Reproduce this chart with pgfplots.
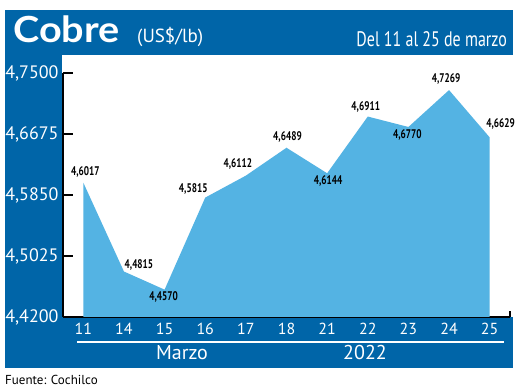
\documentclass[border=0pt]{standalone}
\usepackage{fontspec}
\setmainfont{PT Sans}
\newfontfamily\titlefont{Lato}
\usepackage{graphicx}
\usepackage{pgfplots}
\usepackage{pgfplotstable}
\pgfplotsset{compat=1.18}
\definecolor{dblue}{RGB}{0,101,168}
\definecolor{lblue}{RGB}{84,179,227}
\pgfplotstableread{
x y lab dx dy
0 4.6017 4,6017 2 11
1 4.4815 4,4815 15 7
2 4.4570 4,4570 -1 -7
3 4.5815 4,5815 -12 9
4 4.6112 4,6112 -8 12
5 4.6489 4,6489 1 11
6 4.6144 4,6144 1 -8
7 4.6911 4,6911 -2 10
8 4.6770 4,6770 -1 -8
9 4.7269 4,7269 -3 11
10 4.6629 4,6629 11 13
}\data
\begin{document}
\begin{tikzpicture}
\useasboundingbox (0,0) rectangle (520pt,390pt);
\fill[white] (0,0) rectangle (520pt,390pt);
\fill[dblue] (5pt,335pt) rectangle (513pt,380pt);
\fill[dblue] (5pt,22pt) rectangle (62pt,335pt);
\fill[dblue] (5pt,22pt) rectangle (513pt,73pt);
\draw[white, line width=1.4pt] (77pt,48pt) -- (504pt,48pt);
\node[white, anchor=base west, inner sep=0pt] at (13pt,347pt) {\titlefont\bfseries\fontsize{36}{40}\selectfont\scalebox{1.1}[1]{Cobre}};
\node[white, anchor=base west, inner sep=0pt] at (137pt,347pt) {\fontsize{19}{22}\selectfont (US\$/lb)};
\node[white, anchor=base east, inner sep=0pt] at (507pt,343pt) {\fontsize{21}{24}\selectfont\scalebox{0.76}[1]{Del 11 al 25 de marzo}};
\node[white, inner sep=0pt] at (182pt,37pt) {\fontsize{20}{22}\selectfont Marzo};
\node[white, inner sep=0pt] at (365pt,37pt) {\fontsize{20}{22}\selectfont 2022};
\node[black, anchor=base west, inner sep=0pt] at (5pt,5pt) {\fontsize{13}{15}\selectfont Fuente: Cochilco};
\begin{axis}[
  at={(63pt,73pt)}, anchor=south west,
  scale only axis, width=447pt, height=244pt,
  xmin=-0.5, xmax=10.5, ymin=4.42, ymax=4.75,
  enlargelimits=false, clip=false,
  axis x line=bottom, axis y line=left,
  axis line style={-, black, line width=1.6pt},
  xtick={0,...,10},
  xticklabels={11,14,15,16,17,18,21,22,23,24,25},
  xtick style={draw=none},
  extra x ticks={5.5,10.5}, extra x tick labels={},
  extra x tick style={xtick style={draw=black, line width=1.5pt}, major tick length=6pt, tick align=inside},
  ytick={4.42,4.5025,4.585,4.6675,4.75},
  ytick style={black, line width=1.5pt},
  tick align=inside, major tick length=10pt,
  /pgf/number format/.cd, fixed, fixed zerofill, precision=4, use comma, assume math mode=true,
  /pgfplots/.cd,
  yticklabel style={white, font=\fontsize{18}{20}\selectfont, xshift=-1pt},
  xticklabel style={white, font=\fontsize{16}{18}\selectfont, yshift=-3pt},
]
\addplot[fill=lblue, draw=none] coordinates {(0,4.42) (0,4.6017) (1,4.4815) (2,4.4570) (3,4.5815) (4,4.6112) (5,4.6489) (6,4.6144) (7,4.6911) (8,4.6770) (9,4.7269) (10,4.6629) (10,4.42)} -- cycle;
\addplot[draw=none, mark=none,
  point meta=explicit symbolic,
  visualization depends on={\thisrow{dx} \as \dx},
  visualization depends on={\thisrow{dy} \as \dy},
  nodes near coords={\scalebox{0.74}[1]{\pgfplotspointmeta}},
  every node near coord/.append style={anchor=center, inner sep=0pt, xshift=\dx, yshift=\dy, black, font=\fontsize{12.5}{14}\selectfont\bfseries},
] table[x=x,y=y,meta=lab] {\data};
\end{axis}
\end{tikzpicture}
\end{document}
